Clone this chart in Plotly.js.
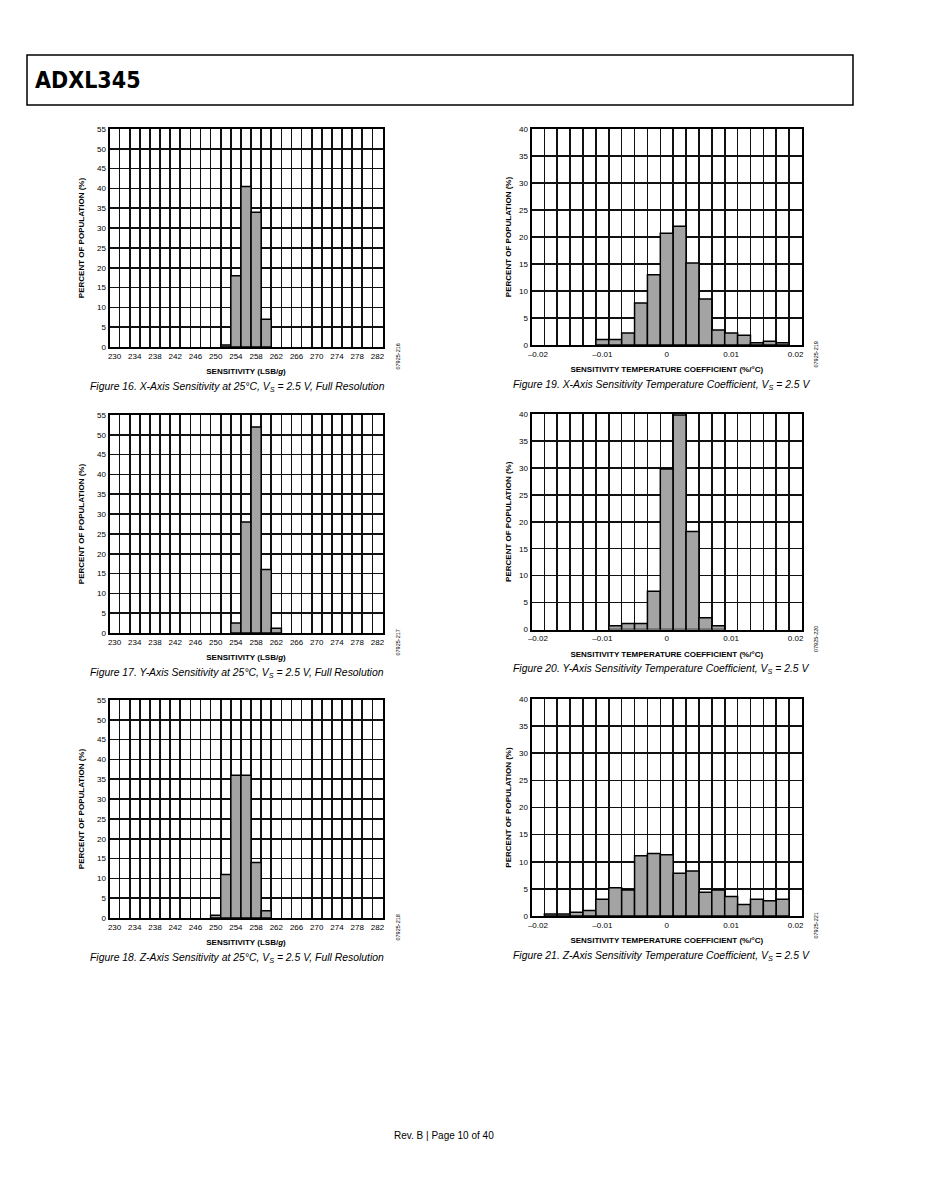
<!DOCTYPE html>
<html><head><meta charset="utf-8">
<script src="https://cdn.plot.ly/plotly-3.0.1.min.js"></script>
<style>html,body{margin:0;padding:0;background:#fff;}#chart{width:926px;height:1198px;}</style>
</head><body><div id="chart"></div>
<script>
// ---------- DATA ----------
const sensTickVals = [230,234,238,242,246,250,254,258,262,266,270,274,278,282];
const tcTickVals = [-0.02,-0.01,0,0.01,0.02];
const tcTickText = ['\u20130.02','\u20130.01','0','0.01','0.02'];

// Figure 16: X-axis sensitivity (LSB/g), % of population
const fig16Bins = [252,254,256,258,260];
const fig16Pct  = [0.5,18,40.5,34,7];
// Figure 17: Y-axis sensitivity
const fig17Bins = [254,256,258,260,262];
const fig17Pct  = [2.5,28,52,16,1.2];
// Figure 18: Z-axis sensitivity
const fig18Bins = [250,252,254,256,258,260];
const fig18Pct  = [0.7,11,36,36,14,1.8];
// Figure 19: X-axis sensitivity temperature coefficient (%/°C)
const fig19Bins = [-0.010,-0.008,-0.006,-0.004,-0.002,0,0.002,0.004,0.006,0.008,0.010,0.012,0.014,0.016,0.018];
const fig19Pct  = [1.0,1.0,2.2,7.8,13,20.7,22,15.2,8.5,2.8,2.2,1.8,0.4,0.7,0.4];
// Figure 20: Y-axis sensitivity temperature coefficient
const fig20Bins = [-0.008,-0.006,-0.004,-0.002,0,0.002,0.004,0.006,0.008];
const fig20Pct  = [0.7,1.1,1.1,7.1,29.8,39.8,18.2,2.2,0.7];
// Figure 21: Z-axis sensitivity temperature coefficient
const fig21Bins = [-0.018,-0.016,-0.014,-0.012,-0.010,-0.008,-0.006,-0.004,-0.002,0,0.002,0.004,0.006,0.008,0.010,0.012,0.014,0.016,0.018];
const fig21Pct  = [0.35,0.35,0.7,1.0,3.1,5.2,4.8,11.1,11.5,11.3,7.9,8.3,4.4,4.8,3.6,2.1,3.1,2.8,3.1];

const captions = [
  'Figure 16. X-Axis Sensitivity at 25\u00b0C, V<sub>S</sub> = 2.5 V, Full Resolution',
  'Figure 19. X-Axis Sensitivity Temperature Coefficient, V<sub>S</sub> = 2.5 V',
  'Figure 17. Y-Axis Sensitivity at 25\u00b0C, V<sub>S</sub> = 2.5 V, Full Resolution',
  'Figure 20. Y-Axis Sensitivity Temperature Coefficient, V<sub>S</sub> = 2.5 V',
  'Figure 18. Z-Axis Sensitivity at 25\u00b0C, V<sub>S</sub> = 2.5 V, Full Resolution',
  'Figure 21. Z-Axis Sensitivity Temperature Coefficient, V<sub>S</sub> = 2.5 V'
];
const figIds = ['07925-216','07925-219','07925-217','07925-220','07925-218','07925-221'];

// ---------- LAYOUT HELPERS ----------
const W = 926, H = 1198;
const pxX = v => v / W;
const pxY = v => 1 - v / H;
const FONT = 'Liberation Sans, Arial, sans-serif';
const COND = 'DejaVu Sans Condensed, Liberation Sans, sans-serif';

// panel pixel boxes: [left, right, top, bottom]
const panels = [
  {box:[109.5,382.5,129,347], kind:'sens', bins:fig16Bins, vals:fig16Pct},
  {box:[531.5,802,129,345],   kind:'tc',   bins:fig19Bins, vals:fig19Pct},
  {box:[109.5,382.5,415,633], kind:'sens', bins:fig17Bins, vals:fig17Pct},
  {box:[531.5,802,414,629.5], kind:'tc',   bins:fig20Bins, vals:fig20Pct},
  {box:[109.5,382.5,700,918], kind:'sens', bins:fig18Bins, vals:fig18Pct},
  {box:[531.5,802,699,916],   kind:'tc',   bins:fig21Bins, vals:fig21Pct}
];

const data = [];
const layout = {
  width: W, height: H,
  margin: {l:0, r:0, t:0, b:0},
  paper_bgcolor: '#fff', plot_bgcolor: '#fff',
  showlegend: false, bargap: 0,
  font: {family: FONT, color: '#000'},
  annotations: [], shapes: []
};

panels.forEach((p, i) => {
  const n = i + 1;
  const xa = 'xaxis' + (n === 1 ? '' : n), ya = 'yaxis' + (n === 1 ? '' : n);
  const xr = 'x' + (n === 1 ? '' : n), yr = 'y' + (n === 1 ? '' : n);
  const sens = p.kind === 'sens';
  data.push({
    type: 'bar', x: p.bins, y: p.vals, width: sens ? 2 : 0.002,
    xaxis: xr, yaxis: yr, hoverinfo: 'skip',
    marker: {color: '#a4a4a4', line: {color: '#000', width: 1.5}}
  });
  const [l, r, t, b] = p.box;
  layout[xa] = {
    domain: [pxX(l), pxX(r)], anchor: yr,
    range: sens ? [229, 283] : [-0.021, 0.021],
    tickmode: 'array',
    tickvals: sens ? sensTickVals : tcTickVals,
    ticktext: sens ? sensTickVals.map(String) : tcTickText,
    ticks: '', showgrid: false, zeroline: false,
    minor: {tick0: sens ? 229 : -0.021, dtick: sens ? 2 : 0.002, showgrid: true,
            gridcolor: '#111', gridwidth: 1.6, ticks: ''},
    showline: true, mirror: true, linecolor: '#000', linewidth: 2,
    tickfont: {family: FONT, size: 8, color: '#000'},
    title: {text: sens ? 'SENSITIVITY (LSB/<i>g</i>)' : 'SENSITIVITY TEMPERATURE COEFFICIENT (%/\u00b0C)',
            font: {family: FONT, size: 8, weight: 'bold', color: '#000'}, standoff: 9},
    fixedrange: true
  };
  layout[ya] = {
    domain: [pxY(b), pxY(t)], anchor: xr,
    range: sens ? [0, 55] : [0, 40],
    tick0: 0, dtick: 5, ticks: '',
    showgrid: true, gridcolor: '#111', gridwidth: 1.6, zeroline: false,
    showline: true, mirror: true, linecolor: '#000', linewidth: 2,
    tickfont: {family: FONT, size: 8, color: '#000'},
    title: {text: 'PERCENT OF POPULATION (%)',
            font: {family: FONT, size: 8, weight: 'bold', color: '#000'}, standoff: sens ? 11 : 6},
    fixedrange: true
  };
  // caption
  const capX = sens ? 237 : 661.5;
  layout.annotations.push({
    xref: 'paper', yref: 'paper', x: pxX(capX), y: pxY(b + 40), xanchor: 'center', yanchor: 'middle',
    text: captions[i], showarrow: false,
    font: {family: FONT, size: 10.4, style: 'italic', color: '#000'}
  });
  // figure id (vertical)
  layout.annotations.push({
    xref: 'paper', yref: 'paper', x: pxX(sens ? 397.5 : 815.5), y: pxY(b + 10), xanchor: 'center', yanchor: 'middle',
    text: figIds[i], showarrow: false, textangle: -90,
    font: {family: FONT, size: 5.5, color: '#000'}
  });
});

// header box and title
layout.shapes.push({type: 'rect', xref: 'paper', yref: 'paper',
  x0: pxX(27), x1: pxX(853), y0: pxY(105), y1: pxY(55),
  line: {color: '#000', width: 1.5}, fillcolor: 'rgba(0,0,0,0)'});
layout.annotations.push({xref: 'paper', yref: 'paper', x: pxX(33), y: pxY(80),
  xanchor: 'left', yanchor: 'middle', text: 'ADXL345', showarrow: false,
  font: {family: COND, size: 23, weight: 'bold', color: '#000'}});
// footer
layout.annotations.push({xref: 'paper', yref: 'paper', x: pxX(444), y: pxY(1135),
  xanchor: 'center', yanchor: 'middle', text: 'Rev. B | Page 10 of 40', showarrow: false,
  font: {family: FONT, size: 10, color: '#000'}});

Plotly.newPlot('chart', data, layout, {staticPlot: true, displayModeBar: false});
</script></body></html>
